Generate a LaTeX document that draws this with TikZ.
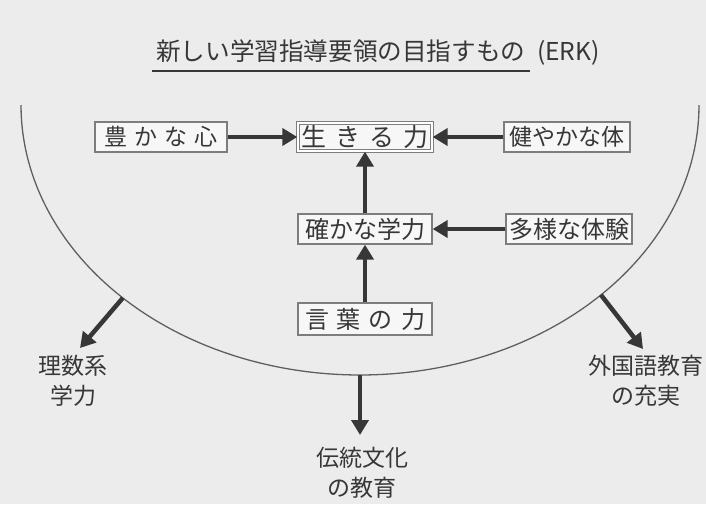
\documentclass[tikz,border=0pt]{standalone}
\usepackage{fontspec}
\setmainfont{Noto Sans CJK JP}
\usetikzlibrary{arrows.meta}
\definecolor{bg}{RGB}{236,236,236}
\definecolor{ink}{RGB}{55,55,55}
\definecolor{frame}{RGB}{125,125,125}
\begin{document}
\begin{tikzpicture}[x=1pt,y=-1pt,
  box/.style={draw=frame,line width=1.3pt,fill=white!60!bg,text=ink,inner sep=0pt,
    minimum height=30pt,font=\fontsize{23}{23}\selectfont},
  arr/.style={draw=ink,line width=4.5pt,-{Triangle[length=15pt,width=17pt]}},
  lbl/.style={text=ink,font=\fontsize{23}{29.5}\selectfont,align=center,inner sep=0pt}]
\fill[bg] (0,0) rectangle (706,504);
\useasboundingbox (0,0) rectangle (706,504);
% title
\node[text=ink,font=\fontsize{24.6}{25}\selectfont,anchor=west,inner sep=0pt] (title) at (156,53) {新しい学習指導要領の目指すもの\hspace{12pt}(ERK)};
\draw[ink,line width=1.6pt] (152,71) -- (530,71);
% arc
\draw[ink!80,line width=1.3pt] plot[domain=0:180,samples=120,smooth] ({360+339*cos(\x)},{105+270*sin(\x)});
% boxes
\node[box,minimum width=132pt] (yutaka) at (161,137) {豊\hspace{7pt}か\hspace{7pt}な\hspace{7pt}心};
\node[box,minimum width=126pt] (kenyaka) at (567,137) {健やかな体};
\node[box,minimum width=134pt,minimum height=28pt,double=white,double distance=2pt,font=\fontsize{25}{25}\selectfont] (ikiru) at (365,137) {生\hspace{9pt}き\hspace{9pt}る\hspace{9pt}力};
\node[box,minimum width=134pt,font=\fontsize{24}{24}\selectfont] (tashika) at (365,229) {確かな学力};
\node[box,minimum width=126pt,font=\fontsize{24}{24}\selectfont] (tayou) at (569,229) {多様な体験};
\node[box,minimum width=134pt,minimum height=32pt,font=\fontsize{24}{24}\selectfont] (kotoba) at (365,319) {言\hspace{8pt}葉\hspace{8pt}の\hspace{8pt}力};
% inner arrows
\draw[arr] (yutaka.east) -- (ikiru.west);
\draw[arr] (kenyaka.west) -- (ikiru.east);
\draw[arr] (tashika.north) -- (ikiru.south);
\draw[arr] (tayou.west) -- (tashika.east);
\draw[arr] (kotoba.north) -- (tashika.south);
% outer arrows
\coordinate (pL) at ({360+339*cos(134.4)},{105+270*sin(134.4)});
\coordinate (pR) at ({360+339*cos(44.7)},{105+270*sin(44.7)});
\coordinate (pB) at (360,375);
\coordinate (tL) at (80,348);
\coordinate (tR) at (643,349);
\coordinate (tB) at (360,435);
\draw[arr] (pL) -- (tL);
\draw[arr] (pR) -- (tR);
\draw[arr] (pB) -- (tB);
% labels
\node[lbl] (risu) at (73,381) {理数系\\学力};
\node[lbl] (gaikoku) at (646,381) {外国語教育\\の充実};
\node[lbl] (dentou) at (362,473) {伝統文化\\の教育};
\end{tikzpicture}
\end{document}
